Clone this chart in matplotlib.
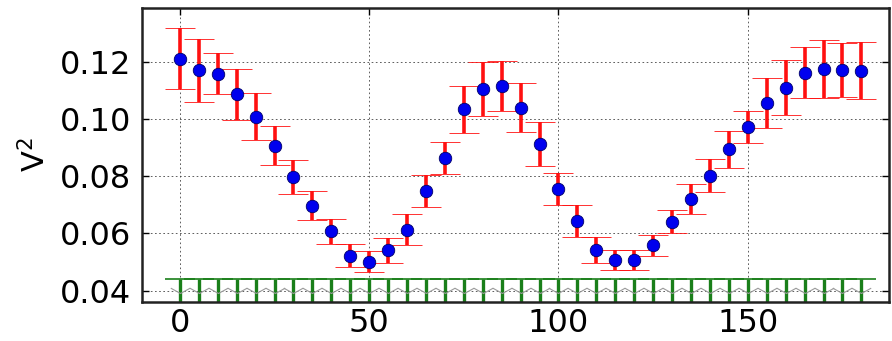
import matplotlib
matplotlib.use("Agg")
import matplotlib.pyplot as plt
from matplotlib.path import Path

angle = [0, 5, 10, 15, 20, 25, 30, 35, 40, 45, 50, 55, 60, 65, 70, 75, 80, 85, 90,
         95, 100, 105, 110, 115, 120, 125, 130, 135, 140, 145, 150, 155, 160, 165,
         170, 175, 180]
v2 = [0.1212, 0.1172, 0.1159, 0.1087, 0.1009, 0.0908, 0.0797, 0.0698, 0.0607, 0.0522,
      0.0501, 0.0541, 0.0613, 0.0748, 0.0866, 0.1035, 0.1106, 0.1116, 0.1041, 0.0914,
      0.0756, 0.0643, 0.0543, 0.0508, 0.0508, 0.0558, 0.0641, 0.0721, 0.0803, 0.0895,
      0.0973, 0.1058, 0.1111, 0.1164, 0.1177, 0.1173, 0.1170]
v2_err = [0.0107, 0.0110, 0.0072, 0.0090, 0.0083, 0.0069, 0.0060, 0.0052, 0.0044, 0.0040,
          0.0037, 0.0044, 0.0054, 0.0056, 0.0056, 0.0083, 0.0094, 0.0087, 0.0085, 0.0076,
          0.0055, 0.0057, 0.0045, 0.0035, 0.0035, 0.0038, 0.0041, 0.0054, 0.0058, 0.0065,
          0.0057, 0.0087, 0.0096, 0.0090, 0.0102, 0.0095, 0.0100]
limit_top = [0.044] * 37
limit_marker = [0.0391] * 37
yticks = [0.04, 0.06, 0.08, 0.10, 0.12]
xticks = [0, 50, 100, 150]

fig = plt.figure(figsize=(8.92, 3.41), dpi=100)
W, H = 892, 341
left_px, right_px, top_px, bottom_px = 142, 889, 8, 302
ax = fig.add_axes([left_px / W, 1 - bottom_px / H, (right_px - left_px) / W,
                   (bottom_px - top_px) / H])

# green upper-limit bars
ax.errorbar(angle, limit_top, yerr=[[0.01] * len(angle), [0] * len(angle)], fmt='none',
            ecolor='#1a7f1a', elinewidth=2.4, capsize=11, capthick=1.2, zorder=2)
vpath = Path([(-1.0, 0.55), (0.0, 0.0), (1.0, 0.55)],
             [Path.MOVETO, Path.LINETO, Path.LINETO])
ax.plot(angle, limit_marker, ls='none', marker=vpath, markersize=14,
        markerfacecolor='none', markeredgecolor='#9a9a9a', markeredgewidth=0.8, zorder=2)

ax.errorbar(angle, v2, yerr=v2_err, fmt='o', color='#0000ee', markersize=9,
            markeredgecolor='#000066', markeredgewidth=0.6,
            ecolor='#ff1010', elinewidth=2.6, capsize=10.5, capthick=1.4, zorder=3)

ax.set_xlim(-10, 187.3)
ax.set_ylim(0.036, 0.139)
ax.set_xticks(xticks)
ax.set_yticks(yticks)
ax.set_xticklabels([str(v) for v in xticks])
ax.set_yticklabels([f"{v:.2f}" for v in yticks])
ax.grid(True, color='#444444', linestyle=(0, (2, 3)), linewidth=0.6)
ax.set_axisbelow(True)
ax.tick_params(direction='in', length=5, width=1, labelsize=23, top=True, right=True)
ax.tick_params(axis='y', pad=8)
ax.tick_params(axis='x', pad=4)
for s in ax.spines.values():
    s.set_linewidth(1.8)
    s.set_color('#222222')
ax.set_ylabel(r'V$^2$', fontsize=22, labelpad=6)

fig.savefig('out.png', dpi=100)
